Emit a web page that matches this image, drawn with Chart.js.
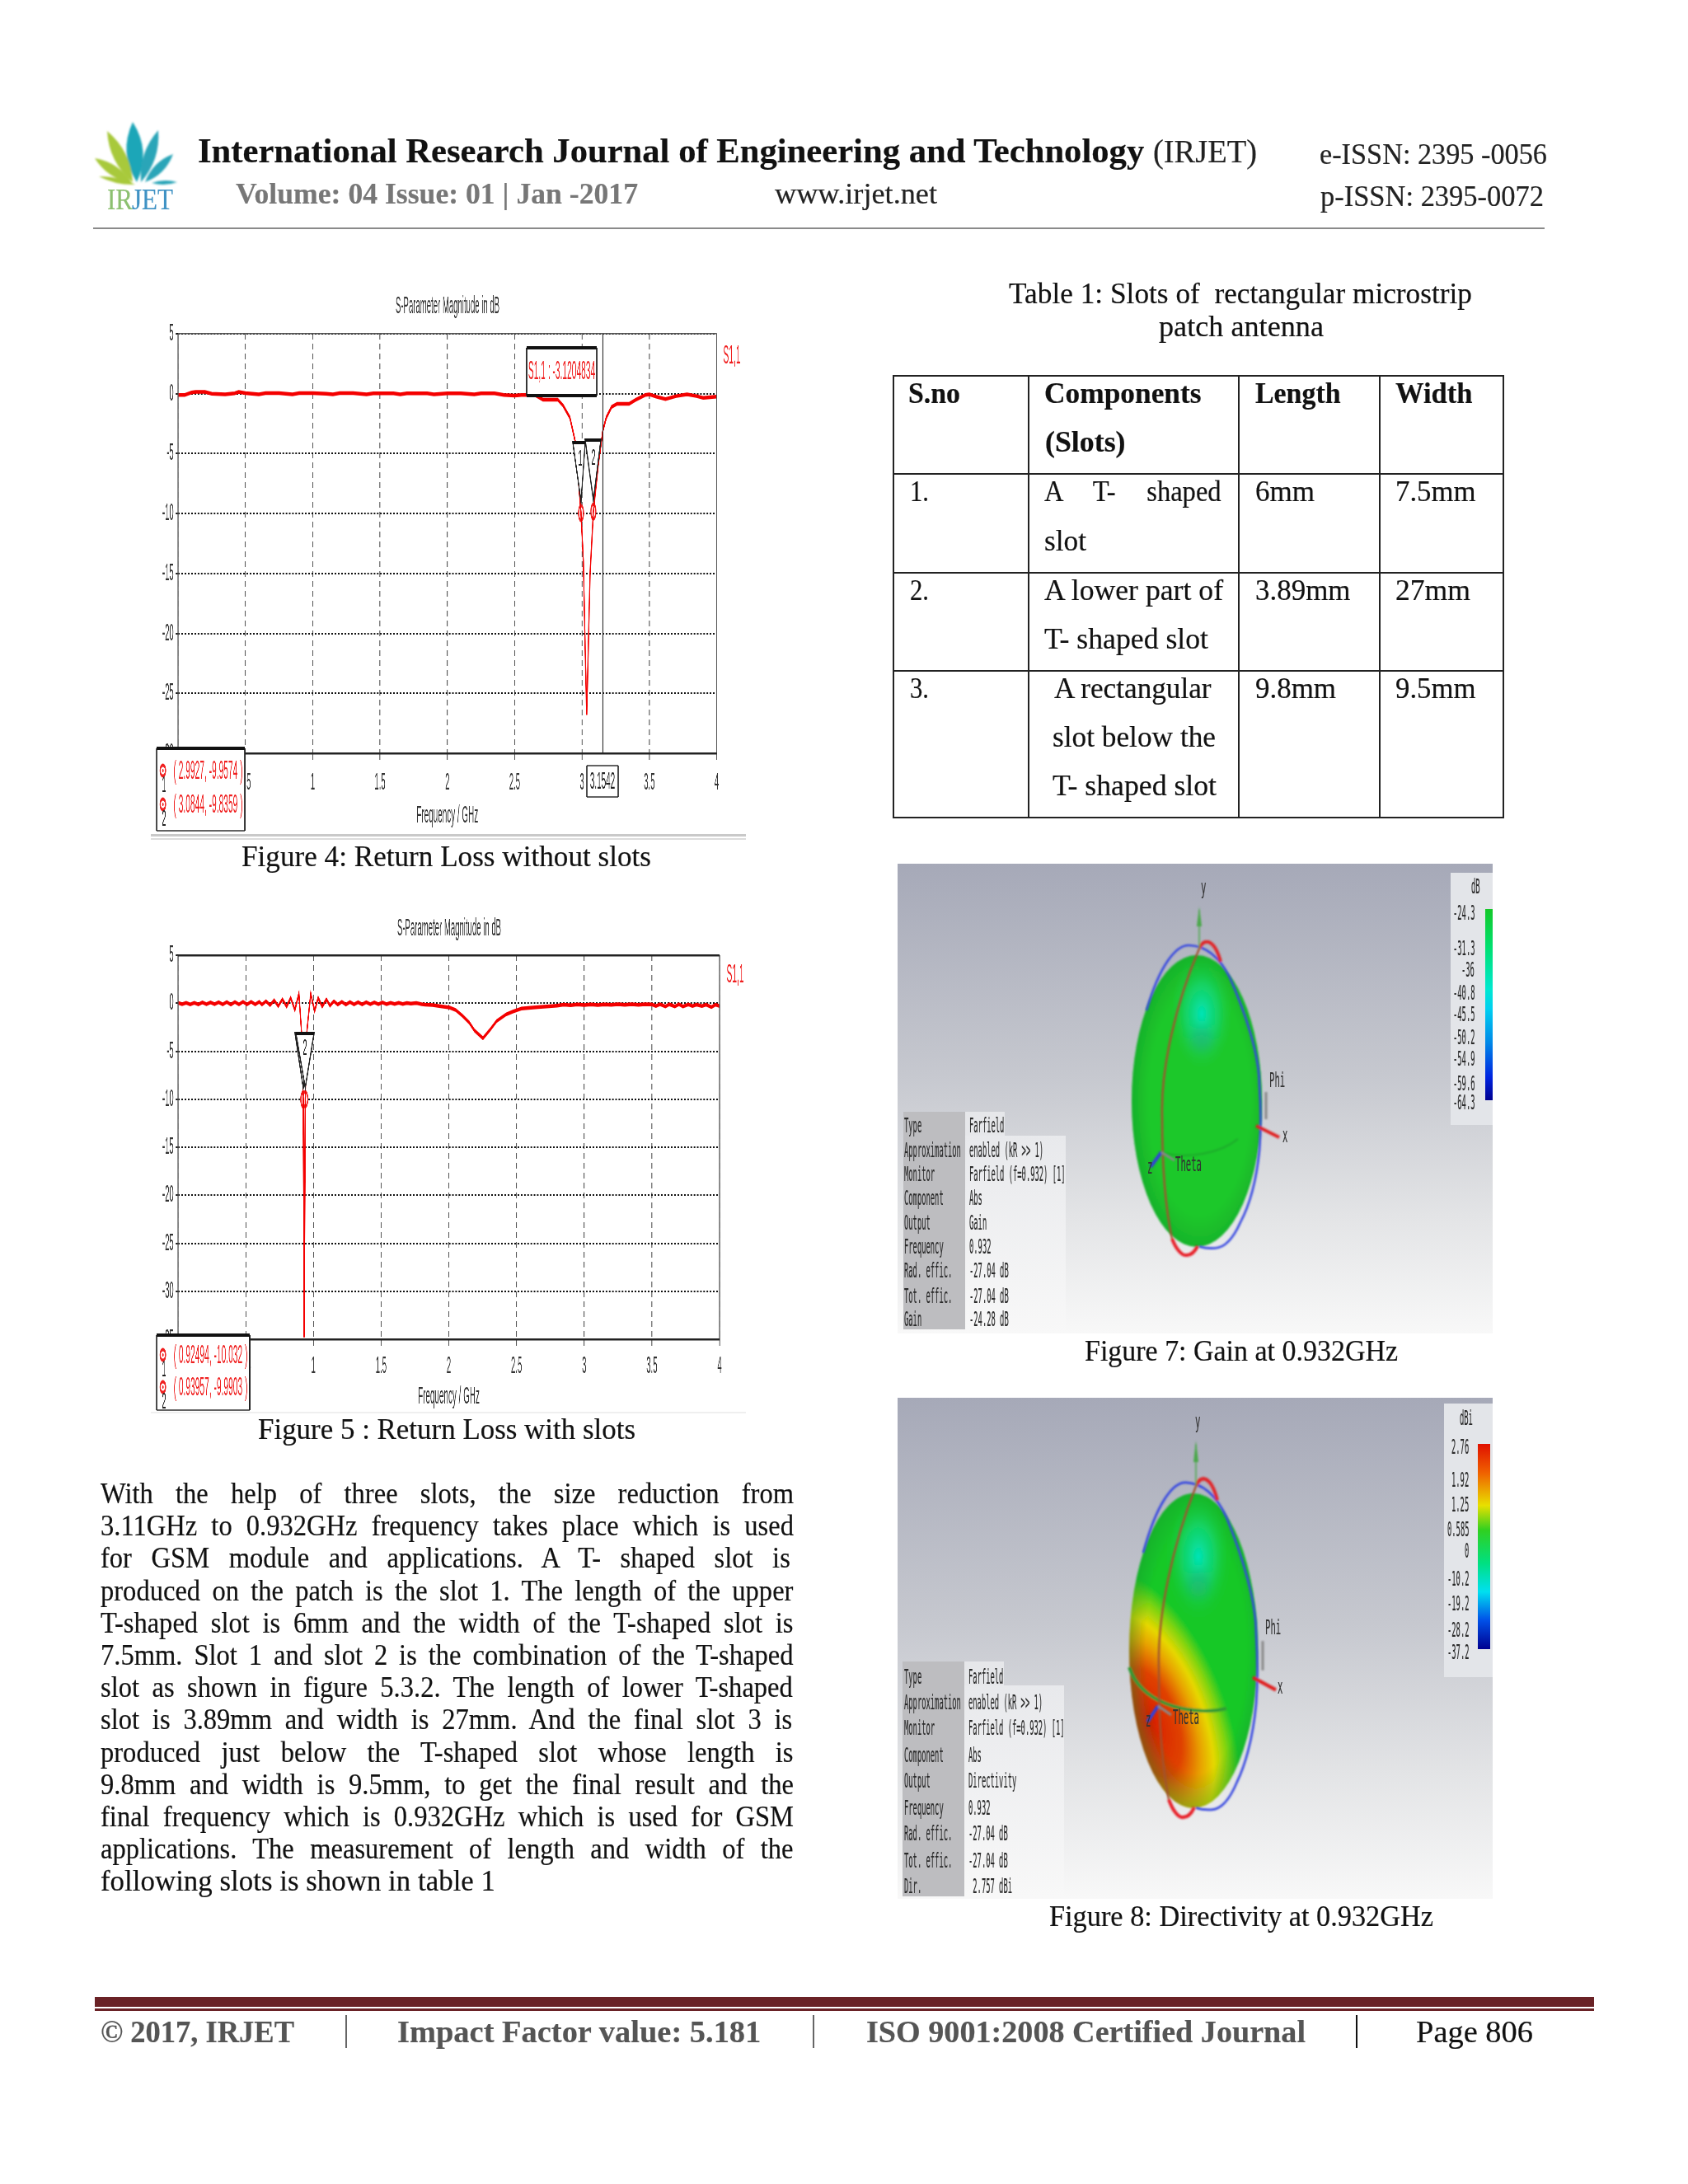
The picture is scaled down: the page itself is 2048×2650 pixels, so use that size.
<!DOCTYPE html>
<html>
<head>
<meta charset="utf-8">
<title>IRJET page 806</title>
<script src="https://cdn.jsdelivr.net/npm/chart.js@4/dist/chart.umd.min.js"></script>
<style>
  html, body { margin: 0; background: #fff; }
  #page { position: relative; width: 2048px; height: 2650px; overflow: hidden; background: #fff; }
  #page > svg { position: absolute; left: 0; top: 0; }
  .txt { position: absolute; white-space: pre; transform-origin: 0 0; -webkit-text-stroke: 0.2px currentColor; }
  .bar { position: absolute; }
  .plot { position: absolute; transform-origin: 0 0; filter: blur(0.35px); }
</style>
</head>
<body>
<div id="page"></div>
<script>
// Figure 4 - return loss without slots
const freqNoSlots = [
  0, .05, .1, .13, .2, .25, .35, .42, .45, .5,
  .6, .65, .75, .85, .9, 1, 1.1, 1.15, 1.2, 1.3,
  1.4, 1.45, 1.6, 1.65, 1.7, 1.85, 1.9, 2, 2.1, 2.2,
  2.25, 2.35, 2.42, 2.5, 2.55, 2.65, 2.71, 2.82, 2.86, 2.91,
  2.95, 2.9927, 3.01, 3.025, 3.035, 3.045, 3.06, 3.0844, 3.12, 3.1542,
  3.18, 3.22, 3.26, 3.35, 3.4, 3.47, 3.5, 3.55, 3.62, 3.7,
  3.78, 3.85, 3.9, 4
];
const s11NoSlots = [
  -.1, -.1, .1, .15, .15, 0, -.05, .03, .15, .05,
  -.05, .05, .05, -.05, .05, .05, 0, -.05, .05, .05,
  -.05, .03, .03, -.05, .03, .03, -.05, .03, .03, -.05,
  .03, .03, -.1, -.15, -.1, -.1, -.5, -.5, -1, -2,
  -4, -9.96, -14, -22, -26.8, -22, -15, -9.84, -6, -3.12,
  -2, -1.1, -.85, -.85, -.5, -.1, -.05, -.25, -.45, -.2,
  -.05, -.2, -.35, -.25
];
const markerFreqNoSlots = [2.9927, 3.0844];
const markerS11NoSlots = [-9.9574, -9.8359];

// Figure 5 - return loss with slots
const freqSlots = [
  0, .03, .06, .09, .12, .15, .18, .21, .24, .27,
  .3, .33, .36, .39, .42, .45, .48, .51, .54, .57,
  .6, .62, .65, .68, .71, .74, .771, .802, .832, .863,
  .893, .913, .92494, .932, .93957, .95, .98, 1.009, 1.035, 1.065,
  1.096, 1.122, 1.151, 1.18, 1.21, 1.24, 1.27, 1.3, 1.33, 1.36,
  1.39, 1.42, 1.45, 1.48, 1.51, 1.54, 1.57, 1.6, 1.63, 1.66,
  1.69, 1.72, 1.76, 1.8, 1.826, 1.88, 1.93, 2.005, 2.05, 2.1,
  2.15, 2.19, 2.252, 2.3, 2.354, 2.425, 2.476, 2.537, 2.588, 2.66,
  2.72, 2.8, 2.85, 2.9, 2.95, 3, 3.05, 3.1, 3.15, 3.2,
  3.25, 3.3, 3.35, 3.4, 3.45, 3.5, 3.53, 3.56, 3.6, 3.63,
  3.67, 3.7, 3.73, 3.77, 3.8, 3.83, 3.87, 3.9, 3.94, 3.97,
  4
];
const s11Slots = [
  .05, -.1, .05, -.12, .05, -.12, .08, -.1, .08, -.1,
  .1, -.12, .12, -.15, .12, -.12, .15, -.12, .15, -.12,
  .15, -.15, .2, -.2, .3, -.3, .4, -.35, .55, -.7,
  1, -3.2, -10.03, -34.8, -9.99, -3.2, 1, -.8, .55, -.35,
  .4, -.25, .2, -.15, .15, -.15, .12, -.12, .1, -.12,
  .1, -.1, .08, -.1, .08, -.1, .05, -.08, .05, -.08,
  .03, -.05, .02, -.1, -.15, -.2, -.3, -.45, -.7, -1.3,
  -2, -2.85, -3.65, -2.85, -1.85, -1.15, -.85, -.55, -.5, -.4,
  -.35, -.25, -.15, -.22, -.12, -.2, -.12, -.2, -.12, -.18,
  -.1, -.18, -.1, -.18, -.1, -.12, -.3, -.1, -.35, -.12,
  -.35, -.12, -.35, -.12, -.3, -.15, -.3, -.15, -.4, -.15,
  -.3
];
const markerFreqSlots = [0.92494, 0.93957];
const markerS11Slots = [-10.032, -9.9903];

// farfield legends
const gainTicks = ['-24.3', '-31.3', '-36', '-40.8', '-45.5', '-50.2', '-54.9', '-59.6', '-64.3'];
const dirTicks = ['2.76', '1.92', '1.25', '0.585', '0', '-10.2', '-19.2', '-28.2', '-37.2'];
const infoLabels = ['Type', 'Approximation', 'Monitor', 'Component', 'Output', 'Frequency', 'Rad. effic.', 'Tot. effic.'];
const gainInfo = ['Farfield', 'enabled (kR >> 1)', 'Farfield (f=0.932) [1]', 'Abs', 'Gain', '0.932', '-27.04 dB', '-27.04 dB', '-24.28 dB'];
const dirInfo = ['Farfield', 'enabled (kR >> 1)', 'Farfield (f=0.932) [1]', 'Abs', 'Directivity', '0.932', '-27.04 dB', '-27.04 dB', ' 2.757 dBi'];

const bodyLines = [
  'With the help of three slots, the size reduction from',
  '3.11GHz to 0.932GHz frequency takes place which is used',
  'for GSM module and applications. A T- shaped slot is',
  'produced on the patch is the slot 1. The length of the upper',
  'T-shaped slot is 6mm and the width of the T-shaped slot is',
  '7.5mm. Slot 1 and slot 2 is the combination of the T-shaped',
  'slot as shown in figure 5.3.2. The length of lower T-shaped',
  'slot is 3.89mm and width is 27mm. And the final slot 3 is',
  'produced just below the T-shaped slot whose length is',
  '9.8mm and width is 9.5mm, to get the final result and the',
  'final frequency which is 0.932GHz which is used for GSM',
  'applications. The measurement of length and width of the'
];
const bodyLast = 'following slots is shown in table 1';

const page = document.getElementById('page');
const SERIF = '"Liberation Serif"';
const mctx = document.createElement('canvas').getContext('2d');
const SQUEEZE = 0.93; // justified lines are set a bit narrow, like the Cambria of the source

function put(text, x, base, w, font, color, just) {
  mctx.font = font;
  const m = mctx.measureText(text);
  const el = document.createElement('div');
  el.className = 'txt';
  el.textContent = text;
  el.style.font = font;
  el.style.color = color || '#111';
  el.style.lineHeight = (m.fontBoundingBoxAscent + m.fontBoundingBoxDescent) + 'px';
  el.style.left = x + 'px';
  el.style.top = (base - m.fontBoundingBoxAscent) + 'px';
  if (w) {
    const gaps = text.split(' ').length - 1;
    if (just && m.width * SQUEEZE < w && gaps) {
      el.style.wordSpacing = ((w / SQUEEZE - m.width) / gaps) + 'px';
      el.style.transform = 'scaleX(' + SQUEEZE + ')';
    } else {
      el.style.transform = 'scaleX(' + (w / m.width) + ')';
    }
  }
  page.appendChild(el);
}

function bar(x, y, w, h, color) {
  const el = document.createElement('div');
  el.className = 'bar';
  el.style.cssText = `left:${x}px;top:${y}px;width:${w}px;height:${h}px;background:${color}`;
  page.appendChild(el);
}

// header
put('International Research Journal of Engineering and Technology', 240, 197, 1149, `bold 42px ${SERIF}`, '#111');
put('(IRJET)', 1399, 197, 126, `40px ${SERIF}`, '#222');
put('e-ISSN: 2395 -0056', 1601, 199, 276, `35px ${SERIF}`, '#222');
put('Volume: 04 Issue: 01 | Jan -2017', 286, 247, 488, `bold 36px ${SERIF}`, '#777');
put('www.irjet.net', 940, 247, 197, `35px ${SERIF}`, '#222');
put('p-ISSN: 2395-0072', 1602, 250, 271, `35px ${SERIF}`, '#222');
bar(113, 276, 1761, 2, '#8a8a8a');

// captions
put('Figure 4: Return Loss without slots', 293, 1051, 497, `35px ${SERIF}`);
put('Figure 5 : Return Loss with slots', 313, 1746, 458, `35px ${SERIF}`);
put('Table 1: Slots of  rectangular microstrip', 1224, 368, 562, `35px ${SERIF}`);
put('patch antenna', 1406, 408, 200, `35px ${SERIF}`);
put('Figure 7: Gain at 0.932GHz', 1316, 1651, 380, `35px ${SERIF}`);
put('Figure 8: Directivity at 0.932GHz', 1273, 2337, 466, `35px ${SERIF}`);

// body text
bodyLines.forEach((line, i) => put(line, 122, 1824 + i * 39.2, 841, `35px ${SERIF}`, '#111', true));
put(bodyLast, 122, 1824 + 12 * 39.2, 479, `35px ${SERIF}`);

// table
[456, 575, 695, 814, 992].forEach(y => bar(1084, y - 1, 741, 2, '#222'));
[1084, 1247.5, 1503, 1674, 1824].forEach(x => bar(x - 1, 455, 2, 538, '#222'));
const B = `bold 35px ${SERIF}`, R = `35px ${SERIF}`;
[
  ['S.no', 1102, 489, 63, B], ['Components', 1266.5, 489, 190.5, B], ['(Slots)', 1267.5, 548, 97.5, B],
  ['Length', 1523, 489, 103.5, B], ['Width', 1693, 489, 93.5, B],
  ['1.', 1104, 608, 23, R], ['slot', 1266.5, 668, 51, R], ['6mm', 1523, 608, 72, R], ['7.5mm', 1693, 608, 97.5, R],
  ['2.', 1104, 728, 23, R], ['A lower part of', 1266.5, 728, 219, R], ['T- shaped slot', 1266.5, 787, 199, R],
  ['3.89mm', 1523, 728, 115.5, R], ['27mm', 1693, 728, 91, R],
  ['3.', 1104, 847, 23, R], ['A rectangular', 1279, 847, 192.5, R], ['slot below the', 1276.5, 906, 198, R],
  ['T- shaped slot', 1276.5, 965, 199, R], ['9.8mm', 1523, 847, 98, R], ['9.5mm', 1693, 847, 97.5, R]
].forEach(c => put(c[0], c[1], c[2], c[3], c[4]));
put('A T- shaped', 1266.5, 608, 217, R, '#111', true);

// footer
bar(114.5, 2423, 1819.5, 12, '#6a2226');
bar(114.5, 2437, 1819.5, 3, '#6a2226');
const F = `bold 38px ${SERIF}`;
put('© 2017, IRJET', 122, 2478, 235, F, '#555');
put('Impact Factor value: 5.181', 482, 2478, 442, F, '#555');
put('ISO 9001:2008 Certified Journal', 1051, 2478, 533, F, '#555');
put('Page 806', 1718, 2478, 142, `37px ${SERIF}`, '#111');
bar(419, 2445, 2, 40, '#666');
bar(986, 2445, 2, 40, '#666');
bar(1645, 2445, 2, 40, '#111');

// rules under the two plots
bar(183, 1012, 722, 3, '#c9c9c9');
bar(183, 1017, 722, 2, '#dcdcdc');
bar(183, 1713, 722, 2, '#efefef');

// ---- Chart.js plots ----
const S = 0.33; // the plots are drawn wide then squeezed, the source software has very narrow text
const SANS = 'Liberation Sans';

function sParamPlot(cfg) {
  const left = 170;
  const lx = x => (x - left) / S;
  const wrap = document.createElement('div');
  wrap.className = 'plot';
  wrap.style.left = left + 'px';
  wrap.style.top = cfg.top + 'px';
  wrap.style.transform = `scaleX(${S})`;
  const canvas = document.createElement('canvas');
  const W = Math.round(760 / S);
  const H = cfg.canvasBottom - cfg.top;
  canvas.width = W;
  canvas.height = H;
  canvas.style.display = 'block';
  wrap.appendChild(canvas);
  page.appendChild(wrap);

  const text = (ctx, s, x, y, color, size) => {
    ctx.fillStyle = color;
    ctx.font = `${size}px "${SANS}"`;
    ctx.textAlign = 'center';
    ctx.textBaseline = 'middle';
    ctx.fillText(s, lx(x), y - cfg.top);
  };
  // thin box: 1.4px rules in page pixels both ways, heavy adds thick top/bottom
  const box = (ctx, x0, y0, x1, y1, heavy) => {
    const a = lx(x0), b = lx(x1), c = y0 - cfg.top, d = y1 - cfg.top;
    const vw = 1.4 / S;
    ctx.fillStyle = '#fff';
    ctx.fillRect(a, c, b - a, d - c);
    ctx.fillStyle = '#222';
    ctx.fillRect(a, c - 0.7, b - a, 1.4);
    ctx.fillRect(a, d - 0.7, b - a, 1.4);
    ctx.fillRect(a - vw / 2, c, vw, d - c);
    ctx.fillRect(b - vw / 2, c, vw, d - c);
    if (heavy) {
      ctx.fillStyle = '#111';
      ctx.fillRect(a, c - 2, b - a, 4);
      if (heavy > 1) ctx.fillRect(a, d - 2, b - a, 4);
    }
  };

  const overlay = {
    id: 'overlay',
    afterDraw(chart) {
      const { ctx, chartArea: a, scales: { x, y } } = chart;
      ctx.save();
      // plot title
      text(ctx, 'S-Parameter Magnitude in dB', cfg.titleX, cfg.titleY, '#333', 29);

      // frame
      ctx.strokeStyle = '#555';
      ctx.lineWidth = 3.6;
      ctx.beginPath();
      ctx.moveTo(a.left, a.top); ctx.lineTo(a.left, a.bottom);
      ctx.moveTo(a.right, a.top); ctx.lineTo(a.right, a.bottom);
      ctx.stroke();
      ctx.fillStyle = cfg.heavyFrame ? '#222' : '#555';
      ctx.fillRect(a.left, a.top - 1, a.width, cfg.heavyFrame ? 2.5 : 1.5);
      ctx.fillStyle = '#222';
      ctx.fillRect(a.left, a.bottom - 1, a.width, 2.5);

      // marker callouts
      cfg.callouts.forEach(c => {
        const tx = x.getPixelForValue(c.f), ty = y.getPixelForValue(c.v) - 14;
        const topY = c.topY - cfg.top;
        const l = lx(c.x0), r = lx(c.x1);
        ctx.fillStyle = '#fff';
        ctx.strokeStyle = '#222';
        ctx.lineWidth = 4;
        ctx.beginPath();
        ctx.moveTo(l, topY); ctx.lineTo(r, topY); ctx.lineTo(tx, ty); ctx.closePath();
        ctx.fill();
        ctx.stroke();
        ctx.fillStyle = '#111';
        ctx.fillRect(l, topY - 2, r - l, 4);
      });
      cfg.callouts.forEach(c => {
        if (c.label) text(ctx, c.label, c.labelX, c.labelY, '#222', 28);
      });

      // cursor
      if (cfg.cursor) {
        const v = cfg.cursor;
        const cx = x.getPixelForValue(v.f);
        ctx.strokeStyle = '#222';
        ctx.lineWidth = 4;
        ctx.beginPath();
        ctx.moveTo(cx, a.top); ctx.lineTo(cx, a.bottom);
        ctx.stroke();
        box(ctx, v.x0, 929, v.x1, 967, 0);
        text(ctx, String(v.f), (v.x0 + v.x1) / 2, 949, '#222', 30);
        box(ctx, v.bx0, v.by0, v.bx1, v.by1, 2);
        text(ctx, v.label, (v.bx0 + v.bx1) / 2, (v.by0 + v.by1) / 2, '#f02020', 31);
      }

      // curve name
      text(ctx, 'S1,1', cfg.nameX, cfg.nameY, '#f02020', 31);

      // marker read-out
      const m = cfg.readout;
      box(ctx, m.x0, m.y0, m.x1, m.y1, 1);
      m.rows.forEach((row, i) => {
        ctx.strokeStyle = '#f02020';
        ctx.lineWidth = 4;
        ctx.beginPath();
        ctx.ellipse(lx(197.6), row.y - cfg.top, 10, 6.5, 0, 0, Math.PI * 2);
        ctx.stroke();
        ctx.beginPath();
        ctx.fillStyle = '#f02020';
        ctx.ellipse(lx(197.6), row.y - cfg.top, 3, 2, 0, 0, Math.PI * 2);
        ctx.fill();
        text(ctx, String(i + 1), 199, row.y + 18, '#222', 28);
        text(ctx, row.text, m.textX, row.y + 1, '#f02020', 31);
      });
      ctx.restore();
    }
  };

  new Chart(canvas, {
    type: 'scatter',
    data: {
      datasets: [
        {
          label: 'S1,1',
          data: cfg.freq.map((f, i) => ({ x: f, y: cfg.s11[i] })),
          showLine: true,
          borderColor: '#f40000',
          borderWidth: 4.5,
          pointRadius: 0,
          tension: 0
        },
        {
          label: 'markers',
          data: cfg.markerFreq.map((f, i) => ({ x: f, y: cfg.markerS11[i] })),
          showLine: false,
          pointRadius: 9,
          pointBorderWidth: 4,
          pointBorderColor: '#f02020',
          pointBackgroundColor: '#fff'
        }
      ]
    },
    options: {
      responsive: false,
      animation: false,
      devicePixelRatio: 1,
      layout: {
        autoPadding: false,
        padding: { left: 0, top: cfg.plotTop - cfg.top, right: W - lx(cfg.plotRight), bottom: 0 }
      },
      plugins: {
        legend: { display: false },
        tooltip: { enabled: false }
      },
      scales: {
        x: {
          type: 'linear',
          min: 0,
          max: 4,
          afterFit: s => { s.height = cfg.canvasBottom - cfg.plotBottom; },
          ticks: {
            stepSize: 0.5,
            maxRotation: 0,
            autoSkip: false,
            padding: cfg.tickPad,
            color: '#333',
            font: { family: SANS, size: 29 },
            callback: v => String(v)
          },
          grid: { color: '#555', lineWidth: 3.2, drawTicks: true, tickLength: 8 },
          border: { display: false, dash: [7, 5] },
          title: {
            display: true,
            text: 'Frequency / GHz',
            color: '#333',
            font: { family: SANS, size: 30 },
            padding: { top: 0, bottom: cfg.freqPad }
          }
        },
        y: {
          min: cfg.yMin,
          max: 5,
          afterFit: s => { s.width = lx(216); },
          ticks: {
            stepSize: 5,
            padding: 8,
            color: '#333',
            font: { family: SANS, size: 29 },
            callback: v => String(v)
          },
          grid: { color: '#111', lineWidth: 2, tickLength: 8 },
          border: { display: false, dash: [6, 6] }
        }
      }
    },
    plugins: [overlay]
  });
}

sParamPlot({
  top: 340, canvasBottom: 1018, plotTop: 405, plotBottom: 914, plotRight: 869.5,
  titleX: 543, titleY: 372, yMin: -30, tickPad: 11, freqPad: 10,
  freq: freqNoSlots, s11: s11NoSlots, markerFreq: markerFreqNoSlots, markerS11: markerS11NoSlots,
  nameX: 888, nameY: 432,
  callouts: [
    { f: markerFreqNoSlots[0], v: markerS11NoSlots[0], x0: 695, x1: 710, topY: 537, label: '1', labelX: 704, labelY: 557 },
    { f: markerFreqNoSlots[1], v: markerS11NoSlots[1], x0: 710, x1: 729, topY: 534, label: '2', labelX: 720, labelY: 556 }
  ],
  cursor: { f: 3.1542, x0: 712, x1: 750, bx0: 639, bx1: 724, by0: 422, by1: 480, label: 'S1,1 : -3.1204834' },
  readout: {
    x0: 190, x1: 297, y0: 908, y1: 1008, textX: 252.5,
    rows: [{ y: 935, text: '( 2.9927, -9.9574 )' }, { y: 976, text: '( 3.0844, -9.8359 )' }]
  }
});

sParamPlot({
  top: 1100, canvasBottom: 1713, plotTop: 1159, plotBottom: 1625, plotRight: 873,
  titleX: 545, titleY: 1127, yMin: -35, heavyFrame: true, tickPad: 8, freqPad: 0,
  freq: freqSlots, s11: s11Slots, markerFreq: markerFreqSlots, markerS11: markerS11Slots,
  nameX: 892, nameY: 1183,
  callouts: [
    { f: markerFreqSlots[0], v: markerS11Slots[0], x0: 358, x1: 380, topY: 1254 },
    { f: markerFreqSlots[1], v: markerS11Slots[1], x0: 359, x1: 381, topY: 1254, label: '2', labelX: 370, labelY: 1272 }
  ],
  readout: {
    x0: 190, x1: 303, y0: 1620, y1: 1711, textX: 255.5,
    rows: [{ y: 1644, text: '( 0.92494, -10.032 )' }, { y: 1683, text: '( 0.93957, -9.9903 )' }]
  }
});

// ---- logo and farfield pictures ----
function leaf(x0, y0, x1, y1, bulge, color) {
  const mx = (x0 + x1) / 2, my = (y0 + y1) / 2;
  const dx = y1 - y0, dy = x0 - x1, len = Math.hypot(dx, dy);
  const nx = dx / len * bulge, ny = dy / len * bulge;
  return `<path d="M${x0},${y0} Q${mx + nx},${my + ny} ${x1},${y1} Q${mx - nx},${my - ny} ${x0},${y0}Z" fill="${color}"/>`;
}

function farfieldBody(cx, cy, rx, ry, k, id, hot) {
  return `
  <g filter="url(#soft)">
    <ellipse cx="${cx}" cy="${cy}" rx="${rx}" ry="${ry}" fill="${hot ? `url(#hot${id})` : '#1ec82a'}"/>
    <ellipse cx="${cx}" cy="${cy}" rx="${rx}" ry="${ry}" fill="url(#edge)"/>
    <ellipse cx="${cx + 6}" cy="${cy - 106 * k}" rx="40" ry="${72 * k}" fill="url(#teal)"/>
    <ellipse cx="${cx + 6}" cy="${cy - 75 * k}" rx="13" ry="${15 * k}" fill="#2f9c78" opacity=".35" filter="url(#spot)"/>
    ${hot ? `<path d="M${cx - 78},${cy + 20} C${cx - 60},${cy + 72} ${cx + 10},${cy + 78} ${cx + 40},${cy + 70}" fill="none" stroke="#2f9a34" stroke-width="4"/>`
          : `<path d="M${cx - 45},${cy + 62} C${cx - 10},${cy + 72} ${cx + 30},${cy + 62} ${cx + 50},${cy + 46}" fill="none" stroke="#189a2c" stroke-width="2.5" opacity=".55"/>`}
  </g>
  <g transform="translate(${cx},${cy}) scale(1,${k})" fill="none" filter="url(#soft)">
    <path d="M-61,-110 C-45,-165 -25,-190 -9,-189 C15,-188 30,-170 40,-150 C60,-105 76,-55 76,-19 C78,10 78,35 76,60 C72,100 62,130 53,147 C45,165 35,178 22,178.5 C15,179 8,178 3,176.5" stroke="#3646e0" stroke-width="2.6"/>
    <path d="M3,-185 C-25,-120 -44,-40 -42,20 C-42,80 -38,130 -30,167" stroke="#a0532e" stroke-width="2.4"/>
    <path d="M-30,167 C-25,180 -18,188 -12,187 C-6,187 -2,182 1,176" stroke="#e8202a" stroke-width="4"/>
    <path d="M3,-185 C6,-192 10,-194 14,-193 C21,-191 26,-180 29,-169" stroke="#e0282a" stroke-width="4"/>
    <path d="M3,-185 L3,-232" stroke="#4aa84a" stroke-width="1.5"/>
    <path d="M3,-236 L0,-212 L6,-212Z" fill="#4aa84a"/>
    <path d="M84,-11 L84,22" stroke="#888" stroke-width="3"/>
    <path d="M72,30 L100,44" stroke="#e02020" stroke-width="4"/>
    <path d="M-43,62 L-56,80" stroke="#3040d8" stroke-width="4"/>
    <path d="M-43,62 L-27,72" stroke="#888" stroke-width="3"/>
  </g>`;
}

const figSvg = `
<svg width="2048" height="2650" xmlns="http://www.w3.org/2000/svg">
  <defs>
    <filter id="soft"><feGaussianBlur stdDeviation="0.8"/></filter>
    <filter id="spot" x="-100%" y="-100%" width="300%" height="300%"><feGaussianBlur stdDeviation="6"/></filter>
    <filter id="logoBlur"><feGaussianBlur stdDeviation="0.9"/></filter>
    <linearGradient id="bg" x1="0" y1="0" x2="0" y2="1">
      <stop offset="0" stop-color="#a6a9b8"/><stop offset=".45" stop-color="#c6c8cf"/>
      <stop offset=".75" stop-color="#e3e4e6"/><stop offset="1" stop-color="#f8f8f8"/>
    </linearGradient>
    <radialGradient id="edge" cx=".52" cy=".5" r=".52">
      <stop offset=".75" stop-color="#0a8a30" stop-opacity="0"/><stop offset="1" stop-color="#0a8a30" stop-opacity=".38"/>
    </radialGradient>
    <radialGradient id="teal">
      <stop offset="0" stop-color="#00e4b8"/><stop offset=".5" stop-color="#10d880" stop-opacity=".65"/><stop offset="1" stop-color="#20c62a" stop-opacity="0"/>
    </radialGradient>
    <radialGradient id="hot8" gradientUnits="userSpaceOnUse" cx="0" cy="0" r="1" gradientTransform="translate(1395 2090) rotate(-20) scale(95 195)">
      <stop offset="0" stop-color="#d81c00"/><stop offset=".35" stop-color="#e04200"/><stop offset=".55" stop-color="#e8a000"/>
      <stop offset=".7" stop-color="#e6d800"/><stop offset=".86" stop-color="#80d410"/><stop offset="1" stop-color="#18c828"/>
    </radialGradient>
    <linearGradient id="cbGain" x1="0" y1="0" x2="0" y2="1">
      <stop offset="0" stop-color="#14c828"/><stop offset=".2" stop-color="#00e070"/><stop offset=".42" stop-color="#00e8d0"/>
      <stop offset=".52" stop-color="#00d0f0"/><stop offset=".7" stop-color="#0088e8"/><stop offset=".88" stop-color="#0024e0"/><stop offset="1" stop-color="#000090"/>
    </linearGradient>
    <linearGradient id="cbDir" x1="0" y1="0" x2="0" y2="1">
      <stop offset="0" stop-color="#e01000"/><stop offset=".14" stop-color="#f06000"/><stop offset=".3" stop-color="#e8e000"/>
      <stop offset=".42" stop-color="#30d020"/><stop offset=".58" stop-color="#00e080"/><stop offset=".72" stop-color="#00e0f0"/>
      <stop offset=".86" stop-color="#0050e8"/><stop offset="1" stop-color="#000090"/>
    </linearGradient>
    <linearGradient id="fadeV" x1="0" y1="0" x2="0" y2="1">
      <stop offset="0" stop-color="#e8e9ec"/><stop offset="1" stop-color="#f8f8f8"/>
    </linearGradient>
  </defs>

  <g filter="url(#logoBlur)">
    ${leaf(161, 148, 166, 221, 20, '#1fa6b8')}
    ${leaf(192, 158, 171, 221, 14, '#2aa5b8')}
    ${leaf(210, 187, 176, 221, 11, '#2aa5b8')}
    ${leaf(215, 221, 184, 222, 5, '#2aa5b8')}
    ${leaf(130, 159, 161, 221, 15, '#a8c93a')}
    ${leaf(115, 192, 160, 222, 12, '#a8c93a')}
    ${leaf(120, 214, 164, 224, 6, '#a8c93a')}
  </g>

  <rect x="1089" y="1048" width="722" height="570" fill="url(#bg)"/>
  <rect x="1170" y="1349" width="49" height="29" fill="#e6e7ea"/>
  <rect x="1170" y="1378" width="123" height="240" fill="url(#fadeV)"/>
  <rect x="1096" y="1349" width="75" height="264" fill="#bdbdc0"/>
  <rect x="1760" y="1059" width="51" height="306" fill="#e3e5e9"/>
  <rect x="1802" y="1103" width="9" height="232" fill="url(#cbGain)"/>
  ${farfieldBody(1452, 1336, 79, 177, 1, 7, false)}

  <rect x="1089" y="1696" width="722" height="608" fill="url(#bg)"/>
  <rect x="1169" y="2016" width="49" height="29" fill="#e6e7ea"/>
  <rect x="1169" y="2045" width="122" height="258" fill="url(#fadeV)"/>
  <rect x="1095" y="2016" width="75" height="285" fill="#bdbdc0"/>
  <rect x="1752" y="1703" width="59" height="332" fill="#e3e5e9"/>
  <rect x="1793" y="1752" width="15" height="249" fill="url(#cbDir)"/>
  ${farfieldBody(1448, 2003, 78, 191, 1.08, 8, true)}
</svg>`;
page.insertAdjacentHTML('afterbegin', figSvg);

// logo lettering
put('IR', 130, 254, 31, `36px ${SERIF}`, '#8cc070');
put('JET', 160, 254, 50, `36px ${SERIF}`, '#3f92c4');

// farfield texts
const MONO = '"DejaVu Sans Mono"';
function mono(text, x, base, right, color) {
  const cw = 5.3;
  const w = text.length * cw;
  put(text, right ? x - w : x, base, w, `24px ${MONO}`, color || '#2a2a2a');
}
const rowsGain = [1366, 1396, 1425, 1454, 1484, 1513, 1542, 1573, 1601];
const rowsDir = [2035, 2066, 2097, 2130, 2161, 2194, 2225, 2258, 2289];
rowsGain.forEach((y, i) => {
  mono(i < 8 ? infoLabels[i] : 'Gain', 1097, y + 8);
  mono(gainInfo[i], 1176, y + 8);
});
rowsDir.forEach((y, i) => {
  mono(i < 8 ? infoLabels[i] : 'Dir.', 1097, y + 8);
  mono(dirInfo[i], 1175, y + 8);
});
[1108, 1151, 1177, 1205, 1231, 1259, 1285, 1315, 1338].forEach((y, i) => mono(gainTicks[i], 1789, y + 8, true));
[1756, 1796, 1826, 1856, 1882, 1916, 1946, 1978, 2005].forEach((y, i) => mono(dirTicks[i], 1782, y + 8, true));
mono('dB', 1796, 1084, true);
mono('dBi', 1787, 1729, true);

[[1457, 1085, 'y'], [1540, 1319, 'Phi'], [1556, 1386, 'x'], [1392, 1424, 'z'], [1426, 1421, 'Theta']].forEach(t => {
  put(t[2], t[0], t[1], t[2].length * 6.4, `25px ${MONO}`, '#333');
});
[[1450, 1733, 'y'], [1535, 1983, 'Phi'], [1550, 2055, 'x'], [1390, 2095, 'z'], [1423, 2092, 'Theta']].forEach(t => {
  put(t[2], t[0], t[1], t[2].length * 6.4, `25px ${MONO}`, '#333');
});
</script>
</body>
</html>
